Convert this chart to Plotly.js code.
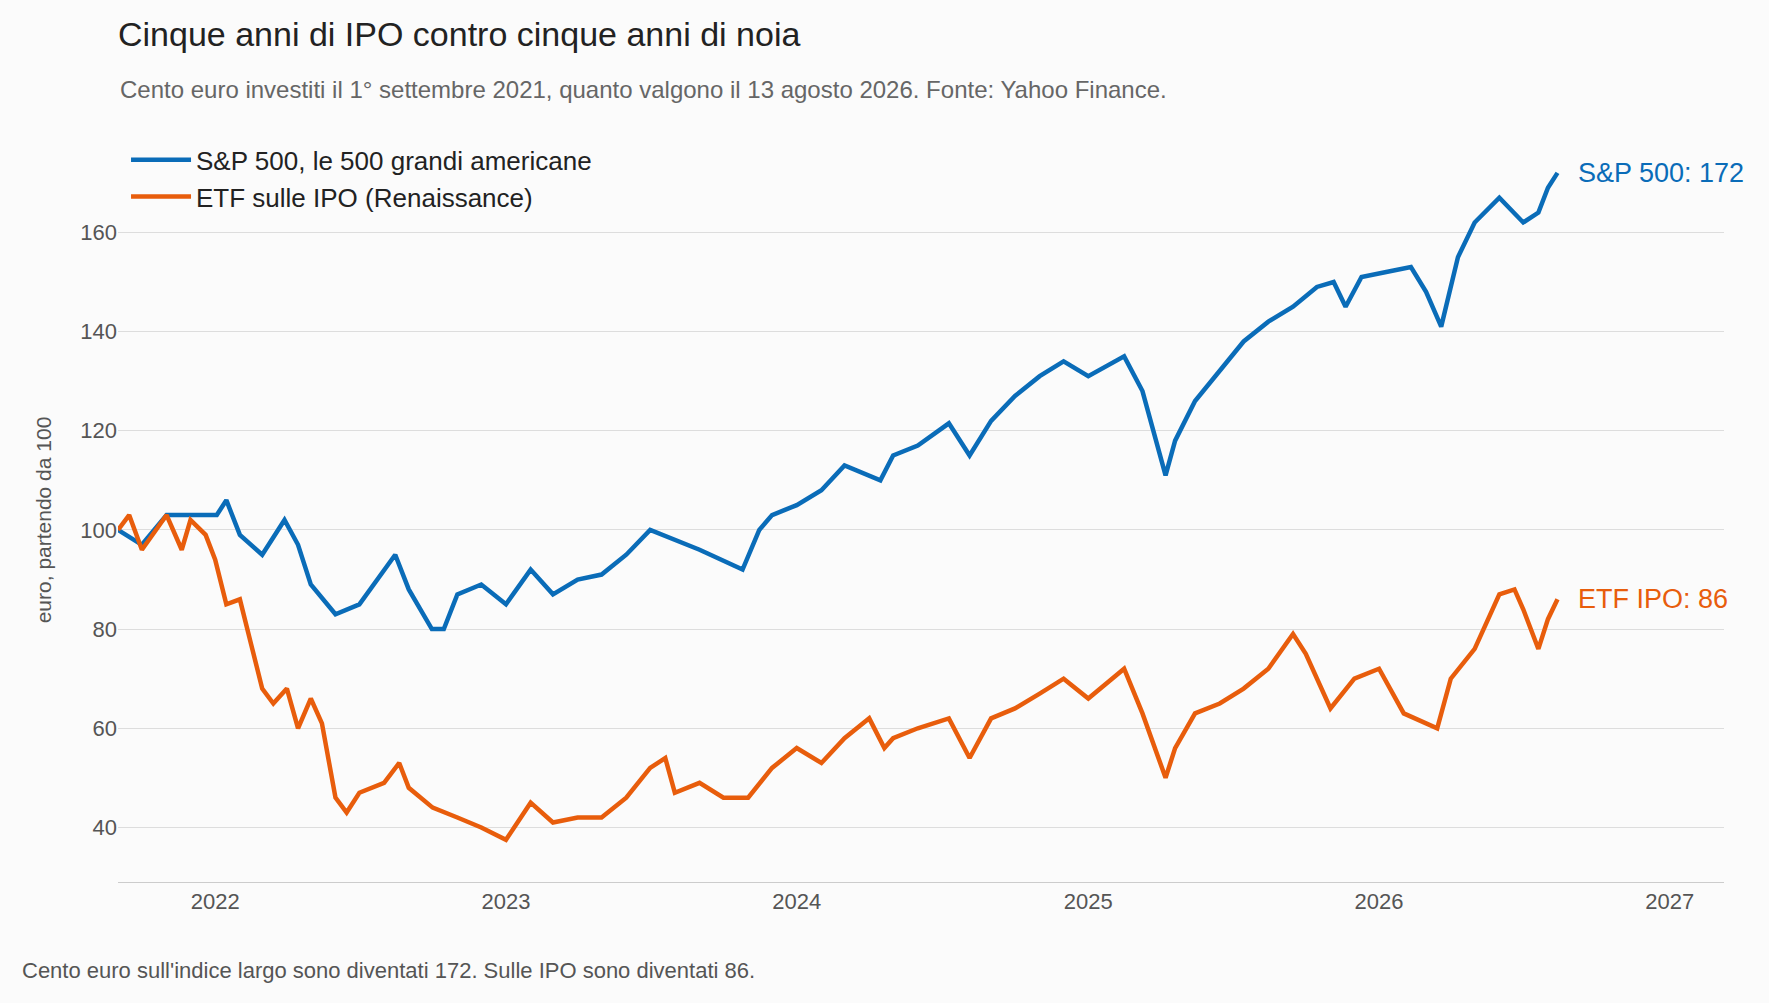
<!DOCTYPE html>
<html><head><meta charset="utf-8">
<script src="https://cdn.plot.ly/plotly-3.0.1.min.js"></script>
<style>body{margin:0;background:#fbfbfb}</style>
</head><body>
<div id="chart" style="width:1769px;height:1003px"></div>
<script>
// values, euro starting from 100
var spDates = ["2021-09-01","2021-10-01","2021-11-01","2021-12-01","2022-01-03","2022-01-15","2022-02-01","2022-03-01","2022-03-29","2022-04-15","2022-05-01","2022-06-01","2022-07-01","2022-08-15","2022-09-01","2022-09-30","2022-10-15","2022-11-01","2022-12-01","2023-01-01","2023-02-01","2023-03-01","2023-04-01","2023-05-01","2023-06-01","2023-07-01","2023-08-01","2023-09-01","2023-10-25","2023-11-15","2023-12-01","2024-01-01","2024-02-01","2024-03-01","2024-04-15","2024-05-01","2024-06-01","2024-07-10","2024-08-05","2024-09-01","2024-10-01","2024-11-01","2024-12-01","2025-01-01","2025-02-15","2025-03-10","2025-04-08","2025-04-20","2025-05-15","2025-06-15","2025-07-15","2025-08-15","2025-09-15","2025-10-15","2025-11-05","2025-11-20","2025-12-10","2026-01-10","2026-02-10","2026-03-01","2026-03-20","2026-04-10","2026-05-01","2026-06-01","2026-07-01","2026-07-20","2026-08-01","2026-08-13"];
var spValues = [100,97,103,103,103,106,99,95,102,97,89,83,85,95,88,80,80,87,89,85,92,87,90,91,95,100,98,96,92,100,103,105,108,113,110,115,117,121.5,115,122,127,131,134,131,135,128,111,118,126,132,138,142,145,149,150,145,151,152,153,148,141,155,162,167,162,164,169,172];

var ipoDates = ["2021-09-01","2021-09-15","2021-10-01","2021-11-01","2021-11-20","2021-12-01","2021-12-20","2022-01-01","2022-01-15","2022-02-01","2022-02-15","2022-03-01","2022-03-15","2022-04-01","2022-04-15","2022-05-01","2022-05-15","2022-06-01","2022-06-15","2022-07-01","2022-08-01","2022-08-20","2022-09-01","2022-10-01","2022-11-01","2022-12-01","2023-01-01","2023-02-01","2023-03-01","2023-04-01","2023-05-01","2023-06-01","2023-07-01","2023-07-20","2023-08-01","2023-09-01","2023-10-01","2023-11-01","2023-12-01","2024-01-01","2024-02-01","2024-03-01","2024-04-01","2024-04-20","2024-05-01","2024-06-01","2024-07-10","2024-08-05","2024-09-01","2024-10-01","2024-11-01","2024-12-01","2025-01-01","2025-02-15","2025-03-10","2025-04-08","2025-04-20","2025-05-15","2025-06-15","2025-07-15","2025-08-15","2025-09-15","2025-10-01","2025-10-20","2025-11-01","2025-12-01","2026-01-01","2026-02-01","2026-03-15","2026-04-01","2026-05-01","2026-06-01","2026-06-20","2026-07-01","2026-07-20","2026-08-01","2026-08-13"];
var ipoValues = [100,103,96,103,96,102,99,94,85,86,77,68,65,68,60,66,61,46,43,47,49,53,48,44,42,40,37.5,45,41,42,42,46,52,54,47,49,46,46,52,56,53,58,62,56,58,60,62,54,62,64,67,70,66,72,63,50,56,63,65,68,72,79,75,68,64,70,72,63,60,70,76,87,88,84,76,82,86];

var blue = "#0a6cb8", orange = "#e85d0c";
var data = [
  {x: spDates, y: spValues, type: "scatter", mode: "lines", name: "S&P 500, le 500 grandi americane", line: {color: blue, width: 4.5}},
  {x: ipoDates, y: ipoValues, type: "scatter", mode: "lines", name: "ETF sulle IPO (Renaissance)", line: {color: orange, width: 4.5}}
];

var layout = {
  width: 1769, height: 1003,
  paper_bgcolor: "#fbfbfb", plot_bgcolor: "#fbfbfb",
  font: {family: "Liberation Sans, Arial, sans-serif", size: 21, color: "#555"},
  margin: {l: 118, r: 45, t: 158, b: 121},
  title: {text: "Cinque anni di IPO contro cinque anni di noia", x: 0, xref: "paper", y: 0.966, yref: "container", yanchor: "middle", font: {size: 34, color: "#222"}},
  xaxis: {range: ["2021-09-01", "2027-03-10"], showgrid: false, showline: true, linecolor: "#ccc", ticks: "", tickfont: {size: 22, color: "#555"}, dtick: "M12", tickformat: "%Y"},
  yaxis: {range: [29, 175], tickvals: [40,60,80,100,120,140,160], gridcolor: "#ddd", zeroline: false, tickfont: {size: 22, color: "#555"},
    title: {text: "euro, partendo da 100", font: {size: 21, color: "#555"}, standoff: 22}},
  legend: {x: 0.005, y: 1.03, xanchor: "left", yanchor: "top", bgcolor: "rgba(0,0,0,0)", font: {size: 26, color: "#222"}, itemwidth: 60},
  showlegend: true,
  annotations: [
    {text: "Cento euro investiti il 1° settembre 2021, quanto valgono il 13 agosto 2026. Fonte: Yahoo Finance.", xref: "paper", yref: "paper", x: 0, y: 1.094, xanchor: "left", yanchor: "middle", showarrow: false, font: {size: 24, color: "#666"}},
    {text: "S&P 500: " + spValues[spValues.length - 1], x: spDates[spDates.length - 1], y: spValues[spValues.length - 1], xanchor: "left", xshift: 18, showarrow: false, font: {size: 27, color: blue}},
    {text: "ETF IPO: " + ipoValues[ipoValues.length - 1], x: ipoDates[ipoDates.length - 1], y: ipoValues[ipoValues.length - 1], xanchor: "left", xshift: 18, showarrow: false, font: {size: 27, color: orange}},
    {text: "Cento euro sull'indice largo sono diventati 172. Sulle IPO sono diventati 86.", xref: "paper", yref: "paper", x: 0, y: -0.122, xanchor: "left", yanchor: "middle", xshift: -98, showarrow: false, font: {size: 22, color: "#555"}}
  ]
};

Plotly.newPlot("chart", data, layout, {displayModeBar: false});
</script>
</body></html>
